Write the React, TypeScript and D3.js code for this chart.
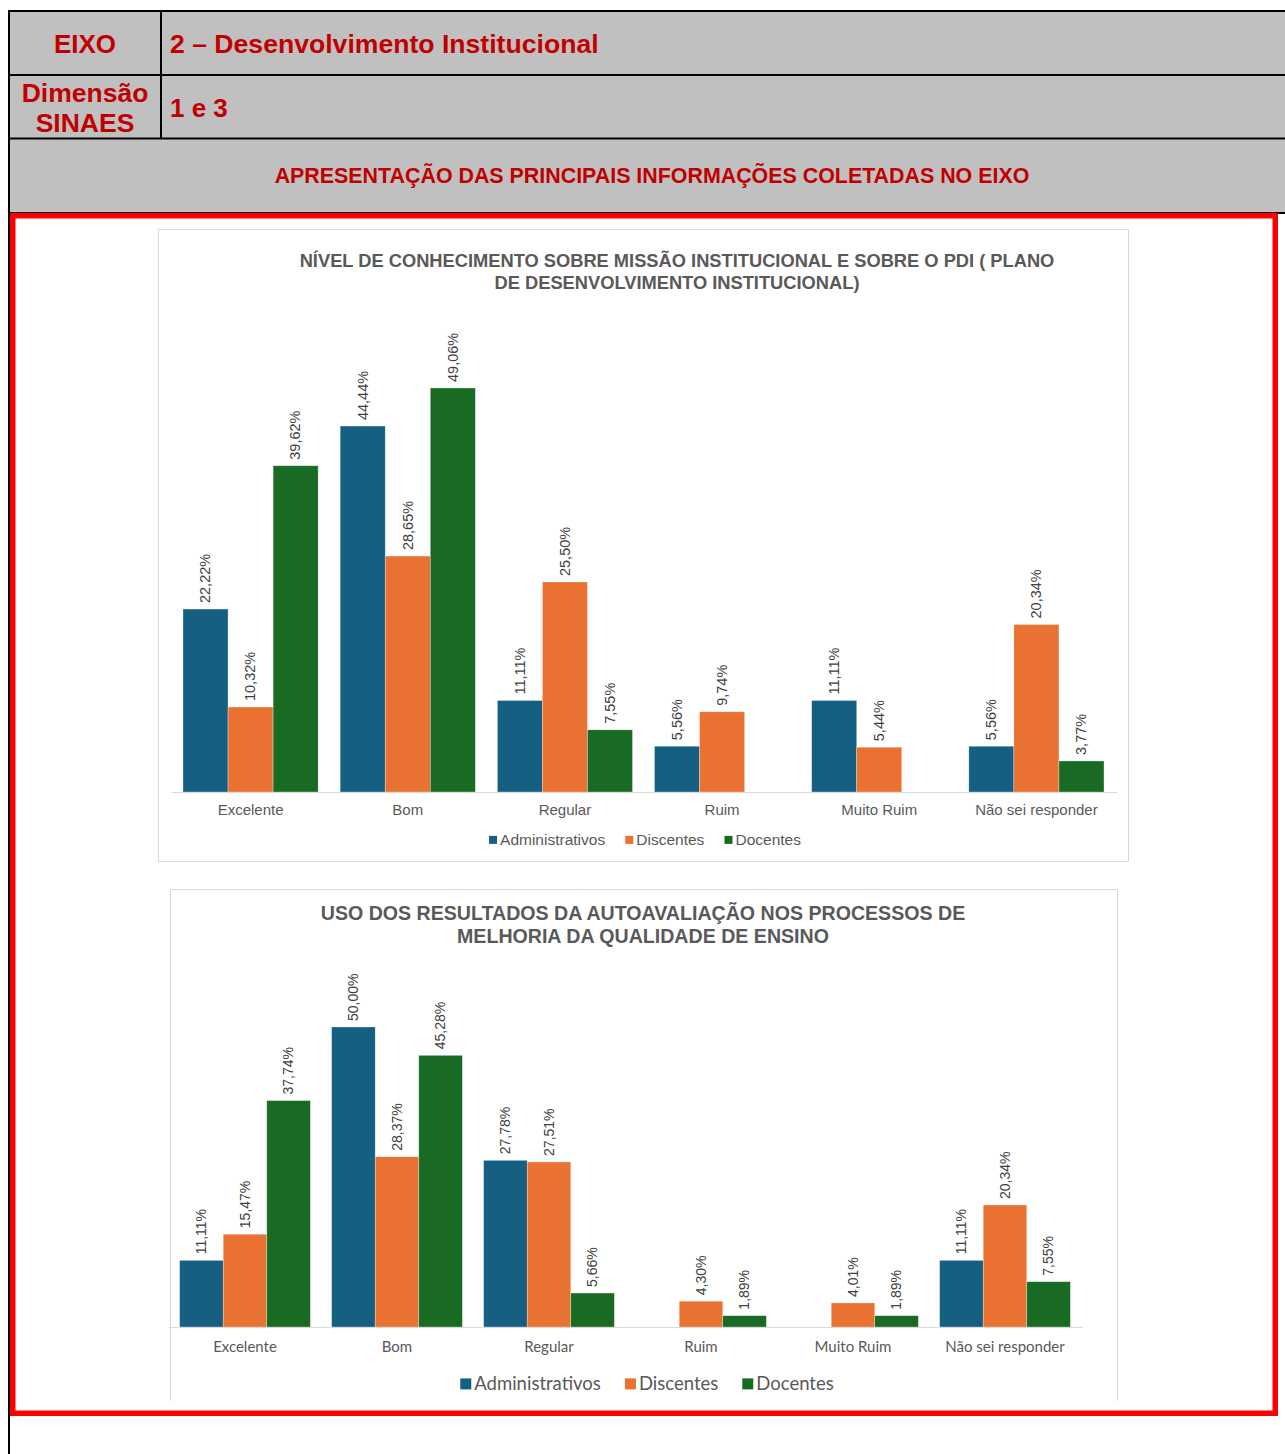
import React from "react";
import * as d3 from "d3";

const categories = ["Excelente", "Bom", "Regular", "Ruim", "Muito Ruim", "Não sei responder"];
const seriesNames = ["Administrativos", "Discentes", "Docentes"];
const seriesColors = ["#156082", "#E97132", "#196B24"];

// gráfico 1 – missão institucional / PDI
const missaoAdministrativos = [22.22, 44.44, 11.11, 5.56, 11.11, 5.56];
const missaoDiscentes = [10.32, 28.65, 25.5, 9.74, 5.44, 20.34];
const missaoDocentes = [39.62, 49.06, 7.55, null, null, 3.77];

// gráfico 2 – uso dos resultados da autoavaliação
const usoAdministrativos = [11.11, 50.0, 27.78, null, null, 11.11];
const usoDiscentes = [15.47, 28.37, 27.51, 4.3, 4.01, 20.34];
const usoDocentes = [37.74, 45.28, 5.66, 1.89, 1.89, 7.55];

const titleMissao = [
  "NÍVEL DE CONHECIMENTO SOBRE MISSÃO INSTITUCIONAL E SOBRE O PDI ( PLANO",
  "DE DESENVOLVIMENTO INSTITUCIONAL)",
];
const titleUso = [
  "USO DOS RESULTADOS DA AUTOAVALIAÇÃO NOS PROCESSOS DE",
  "MELHORIA DA QUALIDADE DE ENSINO",
];

const RED = "#C00000";
const ARIAL = "'Liberation Sans', Arial, sans-serif";

const fmt = (v: number) => v.toFixed(2).replace(".", ",") + "%";

let ctx: CanvasRenderingContext2D | null = null;
function textWidth(text: string, font: string) {
  if (!ctx) ctx = document.createElement("canvas").getContext("2d");
  if (!ctx) return text.length * 8;
  ctx.font = font;
  return ctx.measureText(text).width;
}

interface ChartProps {
  frame: { x0: number; x1: number; y0: number; y1: number; bottom: boolean };
  title: string[];
  titleX: number;
  titleY: number;
  titleSize: number;
  titleGap: number;
  x0: number;
  x1: number;
  baseline: number;
  pxPerPct: number;
  data: (number | null)[][];
  labelFont: string;
  valueSize: number;
  catSize: number;
  catY: number;
  legendSize: number;
  legendY: number;
  legendX: number;
  marker: number;
}

function BarChart(p: ChartProps) {
  const x = d3
    .scaleBand<string>()
    .domain(categories)
    .range([p.x0, p.x1])
    .paddingInner(0.14)
    .paddingOuter(0.07);
  const xs = d3
    .scaleBand<string>()
    .domain(seriesNames)
    .range([0, x.bandwidth()]);
  const y = d3
    .scaleLinear()
    .domain([0, 50])
    .range([p.baseline, p.baseline - 50 * p.pxPerPct]);

  // legenda centrada
  const legendFont = `${p.legendSize}px ${p.labelFont}`;
  const gap = p.legendSize * 1.3;
  const items = seriesNames.map((s) => p.marker + 3 + textWidth(s, legendFont));
  const total = d3.sum(items) + gap * (items.length - 1);
  let cursor = p.legendX - total / 2;
  const legendPos = items.map((w) => {
    const pos = cursor;
    cursor += w + gap;
    return pos;
  });

  const f = p.frame;
  return (
    <g>
      <path
        d={
          f.bottom
            ? `M${f.x0},${f.y0}H${f.x1}V${f.y1}H${f.x0}Z`
            : `M${f.x0},${f.y1}V${f.y0}H${f.x1}V${f.y1}`
        }
        fill="#fff"
        stroke="#d9d9d9"
        strokeWidth={1}
      />
      {p.title.map((t, i) => (
        <text
          key={t}
          x={p.titleX}
          y={p.titleY + i * p.titleGap}
          textAnchor="middle"
          fontFamily={ARIAL}
          fontWeight="bold"
          fontSize={p.titleSize}
          fill="#595959"
        >
          {t}
        </text>
      ))}
      {p.data.map((vals, si) =>
        vals.map((v, ci) => {
          if (v == null) return null;
          const bx = (x(categories[ci]) ?? 0) + (xs(seriesNames[si]) ?? 0);
          const bw = xs.bandwidth();
          const cx = bx + bw / 2;
          const top = y(v);
          return (
            <g key={`${si}-${ci}`}>
              <rect
                x={bx}
                y={top}
                width={bw}
                height={p.baseline - top}
                fill={seriesColors[si]}
                stroke="#ffffff"
                strokeOpacity={0.5}
                strokeWidth={0.6}
              />
              <text
                transform={`translate(${cx + 1},${top - 6}) rotate(-90)`}
                dominantBaseline="middle"
                fontFamily={ARIAL}
                fontSize={p.valueSize}
                fill="#404040"
              >
                {fmt(v)}
              </text>
            </g>
          );
        })
      )}
      <line
        x1={p.x0}
        x2={p.x1 + 2}
        y1={p.baseline + 0.5}
        y2={p.baseline + 0.5}
        stroke="#d9d9d9"
        strokeWidth={1.2}
      />
      {categories.map((c) => (
        <text
          key={c}
          x={(x(c) ?? 0) + x.bandwidth() / 2}
          y={p.catY}
          textAnchor="middle"
          fontFamily={p.labelFont}
          fontSize={p.catSize}
          fill="#595959"
        >
          {c}
        </text>
      ))}
      {seriesNames.map((s, i) => (
        <g key={s} transform={`translate(${legendPos[i]},${p.legendY})`}>
          <rect
            x={0}
            y={-p.marker / 2 - p.legendSize * 0.33}
            width={p.marker}
            height={p.marker}
            fill={seriesColors[i]}
          />
          <text
            x={p.marker + 3}
            y={0}
            fontFamily={p.labelFont}
            fontSize={p.legendSize}
            fill="#595959"
          >
            {s}
          </text>
        </g>
      ))}
    </g>
  );
}

function Header() {
  const bold = { fontFamily: ARIAL, fontWeight: "bold" as const, fill: RED };
  return (
    <g>
      <rect x={9} y={10} width={1280} height={203} fill="#C0C0C0" />
      <g stroke="#000" strokeWidth={2}>
        <line x1={9} x2={1285} y1={11} y2={11} />
        <line x1={9} x2={1285} y1={75} y2={75} />
        <line x1={9} x2={1285} y1={138.5} y2={138.5} />
        <line x1={9} x2={1285} y1={213} y2={213} />
        <line x1={9} x2={9} y1={10} y2={1454} />
        <line x1={161} x2={161} y1={10} y2={138.5} />
      </g>
      <text x={85} y={53} textAnchor="middle" fontSize={26} {...bold}>
        EIXO
      </text>
      <text x={170} y={53} fontSize={26.6} {...bold}>
        2 – Desenvolvimento Institucional
      </text>
      <text x={85} y={102} textAnchor="middle" fontSize={26.5} {...bold}>
        Dimensão
      </text>
      <text x={85} y={132} textAnchor="middle" fontSize={26.5} {...bold}>
        SINAES
      </text>
      <text x={170} y={117} fontSize={26} {...bold}>
        1 e 3
      </text>
      <text x={652} y={183} textAnchor="middle" fontSize={21.4} {...bold}>
        APRESENTAÇÃO DAS PRINCIPAIS INFORMAÇÕES COLETADAS NO EIXO
      </text>
    </g>
  );
}

export default function App() {
  return (
    <svg
      width={1285}
      height={1454}
      style={{ position: "absolute", left: 0, top: 0, background: "#fff" }}
    >
      <Header />
      <rect
        x={12.75}
        y={215.75}
        width={1262.5}
        height={1197.5}
        fill="#fff"
        stroke="#ff0000"
        strokeWidth={5.5}
      />
      <BarChart
        frame={{ x0: 158.5, x1: 1128.5, y0: 229.5, y1: 861.5, bottom: true }}
        title={titleMissao}
        titleX={677}
        titleY={267}
        titleSize={18.3}
        titleGap={22}
        x0={172}
        x1={1115}
        baseline={792}
        pxPerPct={8.235}
        data={[missaoAdministrativos, missaoDiscentes, missaoDocentes]}
        labelFont={ARIAL}
        valueSize={14.5}
        catSize={15}
        catY={815}
        legendSize={15.5}
        legendY={845}
        legendX={645}
        marker={8}
      />
      <BarChart
        frame={{ x0: 170.5, x1: 1117.5, y0: 889.5, y1: 1401, bottom: false }}
        title={titleUso}
        titleX={643}
        titleY={920}
        titleSize={19.6}
        titleGap={23}
        x0={169}
        x1={1081}
        baseline={1327}
        pxPerPct={6.0}
        data={[usoAdministrativos, usoDiscentes, usoDocentes]}
        labelFont="Lato, 'Noto Sans', sans-serif"
        valueSize={14}
        catSize={15}
        catY={1352}
        legendSize={18.5}
        legendY={1390}
        legendX={647}
        marker={11}
      />
    </svg>
  );
}
